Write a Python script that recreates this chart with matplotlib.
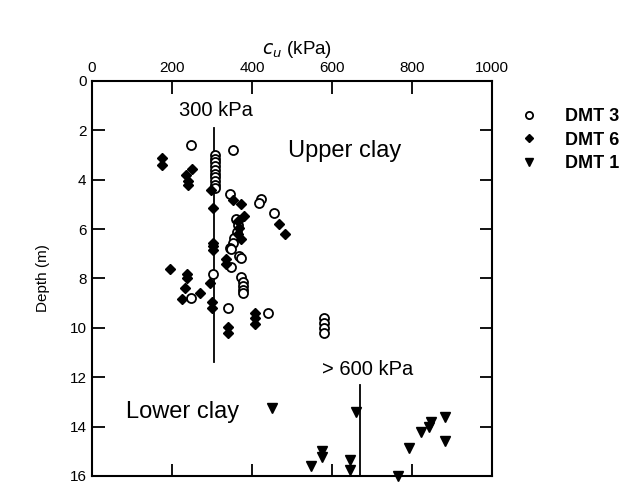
import matplotlib
matplotlib.use("Agg")
import matplotlib.pyplot as plt

plt.rcParams['font.family'] = ['Liberation Sans', 'DejaVu Sans']

# DMT 3 (open circles)
dmt3_cu = [248, 352,
           307, 307, 307, 307, 307, 307, 307, 307, 307, 307,
           345, 423, 417, 456,
           360, 366, 362, 356, 352, 346, 348, 368, 373, 348, 302, 373,
           377, 377, 377, 377, 247, 340, 441,
           580, 580, 580, 580]
dmt3_depth = [2.58, 2.78,
              3.0, 3.15, 3.3, 3.45, 3.6, 3.75, 3.9, 4.05, 4.2, 4.35,
              4.57, 4.77, 4.96, 5.36,
              5.6, 5.85, 6.1, 6.34, 6.55, 6.75, 6.8, 7.08, 7.15, 7.55, 7.8, 7.93,
              8.15, 8.3, 8.45, 8.6, 8.8, 9.2, 9.4,
              9.6, 9.8, 10.0, 10.2]

# DMT 6 (filled diamonds)
dmt6_cu = [176, 174, 250, 236, 240, 240, 298, 352, 373, 302, 381, 364, 368,
           364, 373, 468, 482, 302, 302, 302, 335, 335, 194, 237, 237, 294,
           232, 271, 226, 300, 300, 408, 408, 408, 340, 340]
dmt6_depth = [3.12, 3.39, 3.58, 3.82, 4.05, 4.2, 4.42, 4.82, 5.0, 5.16, 5.45,
              5.67, 5.94, 6.2, 6.4, 5.78, 6.2, 6.55, 6.7, 6.85, 7.2, 7.4, 7.6,
              7.8, 8.0, 8.2, 8.4, 8.59, 8.82, 8.97, 9.2, 9.4, 9.6, 9.84, 9.97,
              10.2]

# DMT 1 (filled down-triangles)
dmt1_cu = [450, 659, 576, 576, 547, 644, 644, 765, 792, 823, 842, 848, 883, 882]
dmt1_depth = [13.24, 13.4, 15.0, 15.22, 15.6, 15.35, 15.75, 16.0, 14.85,
              14.2, 14.0, 13.8, 13.6, 14.6]

x_ticks = [0, 200, 400, 600, 800, 1000]
y_ticks = [0, 2, 4, 6, 8, 10, 12, 14, 16]

fig = plt.figure(figsize=(6.31, 4.83), dpi=100)
ax = fig.add_axes([0.1458, 0.0145, 0.634, 0.8178])

ax.plot(dmt3_cu, dmt3_depth, linestyle='none', marker='o', markersize=6.5,
        markerfacecolor='white', markeredgecolor='black', markeredgewidth=1.3,
        label='DMT 3', zorder=3)
ax.plot(dmt6_cu, dmt6_depth, linestyle='none', marker='D', markersize=5.5,
        color='black', label='DMT 6', zorder=3)
ax.plot(dmt1_cu, dmt1_depth, linestyle='none', marker='v', markersize=7.5,
        color='black', label='DMT 1', zorder=3, clip_on=False)

# reference lines
ax.plot([305, 305], [1.9, 11.4], color='black', linewidth=1.3, zorder=2)
ax.plot([670, 670], [12.3, 16.0], color='black', linewidth=1.3, zorder=2)

ax.text(309, 1.2, '300 kPa', ha='center', va='center', fontsize=14.5)
ax.text(490, 2.85, 'Upper clay', ha='left', va='center', fontsize=17)
ax.text(85, 13.4, 'Lower clay', ha='left', va='center', fontsize=17)
ax.text(575, 11.7, '> 600 kPa', ha='left', va='center', fontsize=14.5)

ax.set_xlim(0, 1000)
ax.set_ylim(16, 0)
ax.set_xticks(x_ticks)
ax.set_yticks(y_ticks)
ax.xaxis.set_ticks_position('both')
ax.yaxis.set_ticks_position('both')
ax.xaxis.set_label_position('top')
ax.tick_params(axis='x', labeltop=True, labelbottom=False)
ax.tick_params(direction='in', length=9, width=1.3, labelsize=11, pad=4)
for s in ax.spines.values():
    s.set_linewidth(1.5)

ax.set_xlabel('$c_u$ (kPa)', fontsize=13.5, labelpad=5)
ax.xaxis.label.set_x(0.513)
ax.set_ylabel('Depth (m)', fontsize=11, labelpad=14)

leg = ax.legend(loc='upper left', bbox_to_anchor=(1.03, 0.972), frameon=False,
                handlelength=1.0, handletextpad=1.5,
                labelspacing=0.35, markerscale=0.8,
                prop={'weight': 'bold', 'size': 13})

fig.savefig('out.png', dpi=100)
